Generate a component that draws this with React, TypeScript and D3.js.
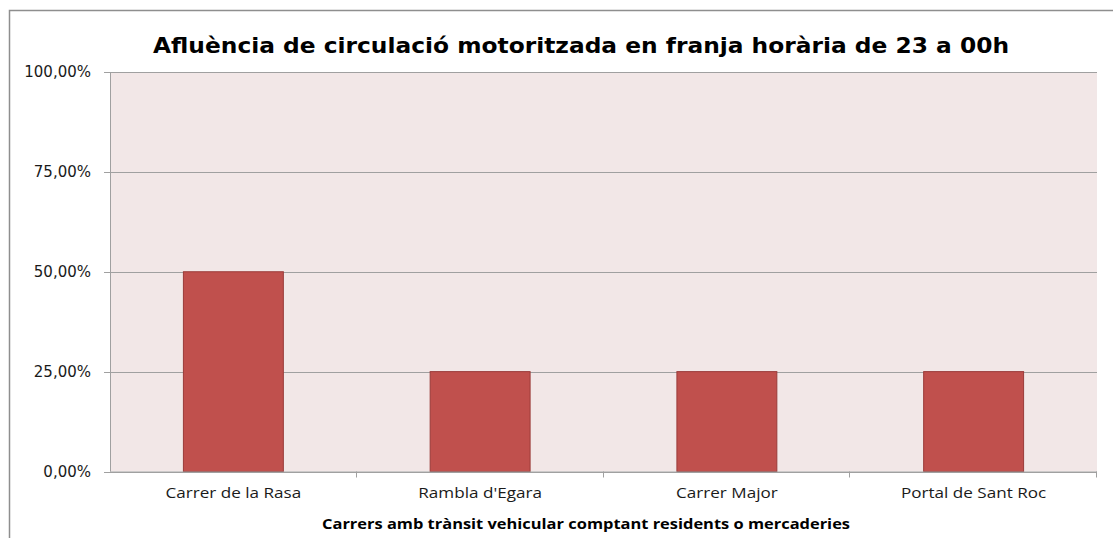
import { useEffect, useRef } from "react";
import * as d3 from "d3";

const categories = [
  "Carrer de la Rasa",
  "Rambla d'Egara",
  "Carrer Major",
  "Portal de Sant Roc",
];
const values = [0.5, 0.25, 0.25, 0.25];
const yTicks = [0, 0.25, 0.5, 0.75, 1];
const title = "Afluència de circulació motoritzada en franja horària de 23 a 00h";
const xTitle = "Carrers amb trànsit vehicular comptant residents o mercaderies";

const W = 1113;
const H = 538;

// the original is slightly stretched sideways, so widen text a bit
function stretch(sel: d3.Selection<SVGTextElement, any, any, any>, k: number) {
  sel.each(function () {
    const len = this.getComputedTextLength();
    d3.select(this)
      .attr("textLength", len * k)
      .attr("lengthAdjust", "spacingAndGlyphs");
  });
}

export default function App() {
  const svgRef = useRef<SVGSVGElement>(null);

  useEffect(() => {
    if (!svgRef.current) return;
    const svg = d3.select(svgRef.current);
    svg.selectAll("*").remove();

    const margin = { top: 72, left: 110, right: 16, bottom: 66.5 };
    const width = W - margin.left - margin.right;
    const height = H - margin.top - margin.bottom;

    // outer chart border (runs past the right and bottom edges)
    svg
      .append("rect")
      .attr("x", 9.5)
      .attr("y", 10.5)
      .attr("width", W + 50)
      .attr("height", H + 50)
      .attr("fill", "#fff")
      .attr("stroke", "#8e8e8e")
      .attr("stroke-width", 1.5);

    const chart = svg
      .append("g")
      .attr("transform", `translate(${margin.left},${margin.top})`);

    const xScale = d3
      .scaleBand()
      .domain(categories)
      .range([0, width])
      .paddingInner(0.595)
      .paddingOuter(0.2975);

    const xBound = d3
      .scaleBand()
      .domain(categories)
      .range([0, width])
      .padding(0);

    const yScale = d3.scaleLinear().domain([0, 1]).range([height, 0]);

    const locale = d3.formatLocale({
      decimal: ",",
      thousands: ".",
      grouping: [3],
      currency: ["", "€"],
    });
    const fmt = locale.format(".2%");

    // plot background
    chart
      .append("rect")
      .attr("width", width)
      .attr("height", height)
      .attr("fill", "#f2e7e7");

    // gridlines
    chart
      .selectAll(".grid")
      .data(yTicks)
      .enter()
      .append("line")
      .attr("x1", -6)
      .attr("x2", width)
      .attr("y1", (d) => Math.round(yScale(d)) + 0.5)
      .attr("y2", (d) => Math.round(yScale(d)) + 0.5)
      .attr("stroke", "#a0a0a0")
      .attr("stroke-width", 1);

    // y axis line
    chart
      .append("line")
      .attr("x1", 0.5)
      .attr("x2", 0.5)
      .attr("y1", 0)
      .attr("y2", height)
      .attr("stroke", "#a0a0a0");

    // y labels
    chart
      .selectAll(".ylab")
      .data(yTicks)
      .enter()
      .append("text")
      .attr("x", -19)
      .attr("y", (d) => yScale(d))
      .attr("dy", "0.36em")
      .attr("text-anchor", "end")
      .attr("font-family", "DejaVu Sans")
      .attr("font-size", 15)
      .attr("fill", "#1a1a1a")
      .text((d) => fmt(d));

    // bars
    chart
      .selectAll(".bar")
      .data(values)
      .enter()
      .append("rect")
      .attr("x", (_d, i) => xScale(categories[i]) as number)
      .attr("y", (d) => yScale(d))
      .attr("width", xScale.bandwidth())
      .attr("height", (d) => height - yScale(d))
      .attr("fill", "#c0504d")
      .attr("stroke", "#9a3b39")
      .attr("stroke-width", 1);

    // x axis line + ticks
    chart
      .append("line")
      .attr("x1", 0)
      .attr("x2", width)
      .attr("y1", height + 0.5)
      .attr("y2", height + 0.5)
      .attr("stroke", "#a0a0a0");

    const bounds = categories.map((c) => (xBound(c) as number) + xBound.bandwidth());
    chart
      .selectAll(".xtick")
      .data(bounds)
      .enter()
      .append("line")
      .attr("x1", (d) => Math.round(d) - 0.5)
      .attr("x2", (d) => Math.round(d) - 0.5)
      .attr("y1", height)
      .attr("y2", height + 6)
      .attr("stroke", "#a0a0a0");

    // x labels
    const xLabels = chart
      .selectAll<SVGTextElement, string>(".xlab")
      .data(categories)
      .enter()
      .append("text")
      .attr("x", (d) => (xBound(d) as number) + xBound.bandwidth() / 2)
      .attr("y", height + 26)
      .attr("text-anchor", "middle")
      .attr("font-family", "Open Sans")
      .attr("font-size", 15)
      .attr("fill", "#1a1a1a")
      .text((d) => d);
    stretch(xLabels, 1.14);

    // axis title
    const axTitle = svg
      .append("text")
      .attr("x", 586)
      .attr("y", 529)
      .attr("text-anchor", "middle")
      .attr("font-family", "Open Sans")
      .attr("font-weight", "bold")
      .attr("font-size", 15)
      .attr("fill", "#000")
      .text(xTitle);
    stretch(axTitle as any, 528 / (axTitle.node() as SVGTextElement).getComputedTextLength());

    // chart title
    const chTitle = svg
      .append("text")
      .attr("x", 581)
      .attr("y", 53)
      .attr("text-anchor", "middle")
      .attr("font-family", "DejaVu Sans")
      .attr("font-weight", "bold")
      .attr("font-size", 21.5)
      .attr("fill", "#000")
      .text(title);
    stretch(chTitle as any, 856 / (chTitle.node() as SVGTextElement).getComputedTextLength());
  }, []);

  return (
    <div style={{ position: "fixed", left: 0, top: 0, width: W, height: H, overflow: "hidden" }}>
      <svg ref={svgRef} width={W} height={H} style={{ display: "block" }} />
    </div>
  );
}
